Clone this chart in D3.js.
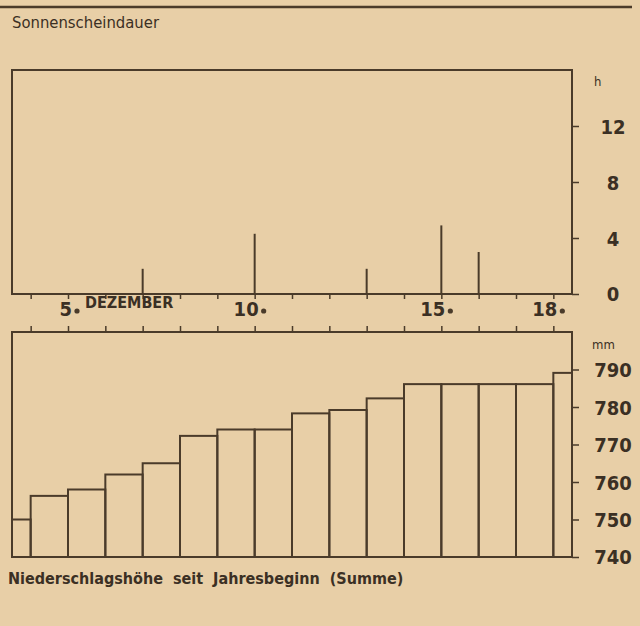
<!DOCTYPE html>
<html>
<head>
<meta charset="utf-8">
<script src="https://cdn.jsdelivr.net/npm/d3@7"></script>
<style>
    body { margin: 0; background: #e8cfa7; }
    text { fill: #3b3024; }
</style>
</head>
<body>
<div id="root"></div>
<script>
// Dezember, Tage
const days = [4, 5, 6, 7, 8, 9, 10, 11, 12, 13, 14, 15, 16, 17, 18];
const dayLabels = [5, 10, 15, 18];

// Sonnenscheindauer (h)
const sunDays = [7, 10, 13, 15, 16];
const sunHours = [1.8, 4.3, 1.8, 4.9, 3.0];
const sunTicks = [0, 4, 8, 12];

// Niederschlagshöhe seit Jahresbeginn (mm), Stufe beginnt am Tag
const rainDays = [3, 4, 5, 6, 7, 8, 9, 10, 11, 12, 13, 14, 15, 16, 17, 18];
const rainTotal = [750, 756.3, 758, 762, 765, 772.3, 774, 774, 778.3, 779.2, 782.3, 786.1, 786.1, 786.1, 786.1, 789.1];
const rainTicks = [740, 750, 760, 770, 780, 790];

const w = 640;
const h = 626;
const ink = "#4a3b2a";
const left = 12;
const right = 572;
const sunTop = 70;
const sunBottom = 294;
const rainTop = 332;
const rainBottom = 557;

const numFont = "'DejaVu Sans Condensed', 'Liberation Sans Narrow', sans-serif";

const xScale = d3.scaleLinear()
    .domain([3.5, 18.5])
    .range([left, right]);

const ySun = d3.scaleLinear()
    .domain([0, 16])
    .range([sunBottom, sunTop]);

const yRain = d3.scaleLinear()
    .domain([740, 800])
    .range([rainBottom, rainTop]);

const svg = d3.select("#root")
    .append("svg")
    .attr("width", w)
    .attr("height", h);

// rule at the top
svg.append("line")
    .attr("x1", 0).attr("x2", 632)
    .attr("y1", 7).attr("y2", 7)
    .attr("stroke", ink)
    .attr("stroke-width", 2.5);

// title
svg.append("text")
    .attr("x", 12)
    .attr("y", 28)
    .style("font-family", numFont)
    .style("font-size", "16.5px")
    .text("Sonnenscheindauer");

// sunshine box
svg.append("rect")
    .attr("x", left).attr("y", sunTop)
    .attr("width", right - left).attr("height", sunBottom - sunTop)
    .attr("fill", "none")
    .attr("stroke", ink)
    .attr("stroke-width", 2);

// sunshine lines
svg.selectAll(".sun")
    .data(sunDays)
    .enter()
    .append("line")
    .attr("class", "sun")
    .attr("x1", d => xScale(d))
    .attr("x2", d => xScale(d))
    .attr("y1", ySun(0))
    .attr("y2", (d, i) => ySun(sunHours[i]))
    .attr("stroke", ink)
    .attr("stroke-width", 2);

// rain steps
svg.selectAll(".rain")
    .data(rainDays)
    .enter()
    .append("rect")
    .attr("class", "rain")
    .attr("x", d => xScale(Math.max(d, 3.5)))
    .attr("y", (d, i) => yRain(rainTotal[i]))
    .attr("width", d => xScale(Math.min(d + 1, 18.5)) - xScale(Math.max(d, 3.5)))
    .attr("height", (d, i) => yRain(740) - yRain(rainTotal[i]))
    .attr("fill", "none")
    .attr("stroke", ink)
    .attr("stroke-width", 2);

// rain box
svg.append("rect")
    .attr("x", left).attr("y", rainTop)
    .attr("width", right - left).attr("height", rainBottom - rainTop)
    .attr("fill", "none")
    .attr("stroke", ink)
    .attr("stroke-width", 2);

// day ticks under the sunshine box and above the rain box
const dayAxisA = d3.axisBottom(xScale).tickValues(days).tickSize(5).tickFormat("");
const dayAxisB = d3.axisTop(xScale).tickValues(days).tickSize(6).tickFormat("");
[[dayAxisA, sunBottom], [dayAxisB, rainTop]].forEach(([ax, y]) => {
    const g = svg.append("g")
        .attr("transform", "translate(0, " + y + ")")
        .call(ax);
    g.select(".domain").remove();
    g.selectAll("line").attr("stroke", ink).attr("stroke-width", 1.5);
});

// day labels with dot
const dl = svg.selectAll(".daylabel")
    .data(dayLabels)
    .enter()
    .append("g")
    .attr("class", "daylabel")
    .attr("transform", d => "translate(" + xScale(d) + ", 0)");
dl.append("text")
    .attr("x", 4)
    .attr("y", 316)
    .attr("text-anchor", "end")
    .style("font-family", numFont)
    .style("font-weight", "bold")
    .style("font-size", "20px")
    .text(d => d);
dl.append("circle")
    .attr("cx", 9)
    .attr("cy", 311)
    .attr("r", 2.6)
    .attr("fill", ink);

svg.append("text")
    .attr("x", 85)
    .attr("y", 308)
    .style("font-family", numFont)
    .style("font-weight", "bold")
    .style("font-size", "16px")
    .text("DEZEMBER");

// right axes
function rightAxis(scale, ticks, unit, unitY) {
    const g = svg.append("g")
        .attr("transform", "translate(" + right + ", 0)")
        .call(d3.axisRight(scale).tickValues(ticks).tickSize(7));
    g.select(".domain").remove();
    g.selectAll("line").attr("stroke", ink).attr("stroke-width", 1.5);
    g.selectAll("text")
        .attr("x", 41)
        .attr("dy", "0.36em")
        .attr("text-anchor", "middle")
        .style("font-family", numFont)
        .style("font-weight", "bold")
        .style("font-size", "20px")
        .style("fill", "#3b3024");
    svg.append("text")
        .attr("x", unit === "h" ? 594 : 592)
        .attr("y", unitY)
        .style("font-family", numFont)
        .style("font-size", "13px")
        .text(unit);
}
rightAxis(ySun, sunTicks, "h", 86);
rightAxis(yRain, rainTicks, "mm", 349);
d3.selectAll("g text").filter(d => d === 0 || d === 740).attr("dy", "0.3em");

// caption
svg.append("text")
    .attr("x", 8)
    .attr("y", 584)
    .attr("xml:space", "preserve")
    .style("white-space", "pre")
    .style("font-family", numFont)
    .style("font-size", "16px")
    .style("font-weight", "bold")
    .text("Niederschlagshöhe  seit  Jahresbeginn  (Summe)");
</script>
</body>
</html>
